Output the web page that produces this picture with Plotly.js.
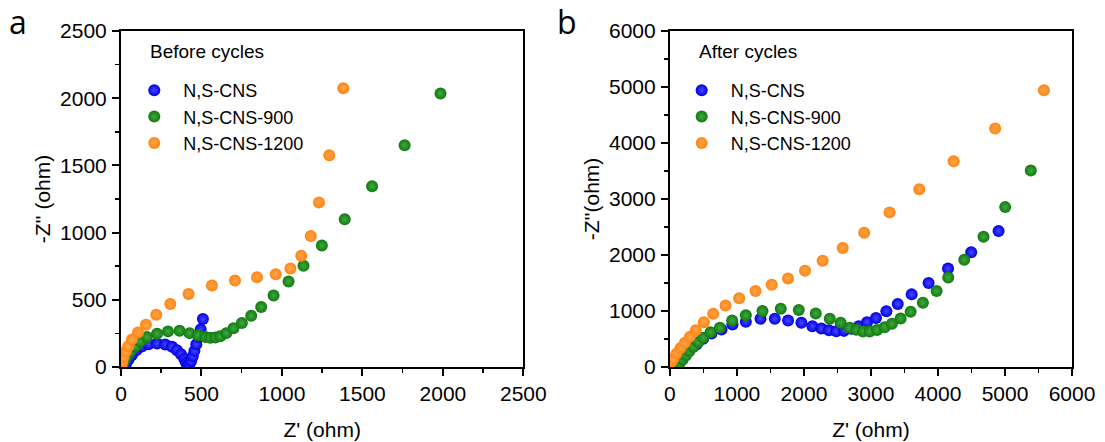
<!DOCTYPE html>
<html>
<head>
<meta charset="utf-8">
<script src="https://cdn.plot.ly/plotly-3.0.1.min.js"></script>
<style>html,body{margin:0;padding:0;background:#fff;}#chart{width:1105px;height:442px;}</style>
</head>
<body>
<div id="chart"></div>
<script>
// ---------- Data ----------
const seriesNames = ["N,S-CNS", "N,S-CNS-900", "N,S-CNS-1200"];
const panelTitles = ["Before cycles", "After cycles"];

// Panel a: before cycles
const a_cns_x   = [20, 31, 47, 68, 95, 130, 171, 224, 275, 317, 348, 373, 393, 405, 414, 425, 436, 446, 456, 468, 482, 495, 509];
const a_cns_y   = [5, 25, 55, 90, 125, 152, 170, 175, 168, 150, 125, 95, 60, 30, 12, 20, 45, 80, 120, 170, 225, 280, 357];
const a_900_x   = [8, 20, 37, 58, 89, 120, 161, 224, 292, 364, 426, 478, 524, 555, 586, 617, 654, 699, 751, 809, 871, 948, 1041, 1134, 1248, 1390, 1560, 1762, 1985];
const a_900_y   = [17, 42, 79, 116, 153, 190, 223, 247, 265, 270, 252, 237, 223, 218, 220, 228, 252, 289, 327, 381, 446, 532, 636, 753, 904, 1099, 1345, 1650, 2035];
const a_1200_x  = [3, 8, 16, 30, 45, 68, 106, 155, 219, 306, 420, 565, 708, 845, 962, 1053, 1120, 1179, 1230, 1294, 1381];
const a_1200_y  = [12, 40, 75, 115, 155, 205, 257, 314, 389, 469, 544, 606, 643, 667, 690, 733, 828, 975, 1224, 1576, 2074];

// Panel b: after cycles
const b_cns_x   = [10, 40, 90, 150, 220, 300, 397, 497, 621, 770, 934, 1133, 1352, 1565, 1763, 1962, 2126, 2260, 2374, 2484, 2598, 2708, 2817, 2941, 3075, 3230, 3400, 3607, 3860, 4150, 4496, 4904];
const b_cns_y   = [60, 100, 150, 205, 265, 330, 400, 503, 598, 670, 759, 808, 862, 862, 831, 790, 729, 688, 657, 640, 645, 682, 729, 800, 877, 995, 1126, 1297, 1499, 1759, 2050, 2429];
const b_900_x   = [89, 139, 189, 238, 288, 348, 422, 497, 606, 745, 929, 1133, 1381, 1654, 1923, 2176, 2385, 2548, 2683, 2782, 2881, 2981, 3090, 3204, 3313, 3443, 3592, 3775, 3979, 4153, 4392, 4680, 5003, 5385];
const b_900_y   = [5, 59, 131, 203, 280, 359, 442, 521, 621, 700, 831, 926, 998, 1041, 1016, 957, 862, 790, 700, 665, 635, 635, 662, 711, 772, 867, 987, 1149, 1357, 1598, 1914, 2327, 2855, 3507];
const b_1200_x  = [10, 50, 99, 159, 224, 298, 387, 507, 646, 830, 1033, 1277, 1520, 1762, 2016, 2279, 2579, 2899, 3277, 3721, 4233, 4853, 5581];
const b_1200_y  = [72, 144, 239, 341, 431, 538, 657, 801, 951, 1100, 1226, 1357, 1470, 1582, 1718, 1896, 2127, 2399, 2761, 3175, 3673, 4260, 4941];

// Axis tick values
const a_ticks = [0, 500, 1000, 1500, 2000, 2500];
const b_ticks = [0, 1000, 2000, 3000, 4000, 5000, 6000];

// ---------- Styles ----------
const colors = ["#0000e6", "#117a11", "#ff8412"];
const centers = ["#4848ff", "#3fa83f", "#ffa850"];
const FONT = "Arial, 'Liberation Sans', sans-serif";

function tr(x, y, i, xa, ya, leg) {
  return {
    x: x, y: y, type: "scatter", mode: "markers", name: seriesNames[i],
    xaxis: xa, yaxis: ya, legend: leg,
    marker: { size: 12, color: colors[i], gradient: { type: "radial", color: centers[i] }, line: { width: 0 } },
    hoverinfo: "x+y"
  };
}

const data = [
  tr(a_cns_x, a_cns_y, 0, "x", "y", "legend"),
  tr(a_900_x, a_900_y, 1, "x", "y", "legend"),
  tr(a_1200_x, a_1200_y, 2, "x", "y", "legend"),
  tr(b_cns_x, b_cns_y, 0, "x2", "y2", "legend2"),
  tr(b_900_x, b_900_y, 1, "x2", "y2", "legend2"),
  tr(b_1200_x, b_1200_y, 2, "x2", "y2", "legend2")
];

function axis(range, ticks, dtick, domain, title, anchor, isX) {
  return {
    domain: domain, anchor: anchor, range: range,
    tickvals: ticks, ticks: "outside", ticklen: 7, tickwidth: 2, tickcolor: "#000",
    minor: { dtick: dtick / 2, ticks: "outside", ticklen: 4, tickwidth: 1.5, tickcolor: "#000", showgrid: false },
    showline: true, linewidth: 2, linecolor: "#000", mirror: true,
    showgrid: false, zeroline: false,
    tickfont: { family: FONT, size: 21, color: "#000" },
    ticklabelstandoff: isX ? 0 : 1,
    title: { text: title, font: { family: FONT, size: 21, color: "#000" }, standoff: isX ? 18 : 4 }
  };
}

const legFont = { family: FONT, size: 18, color: "#000" };
const layout = {
  width: 1105, height: 442,
  margin: { l: 121, r: 33, t: 31, b: 75 },
  paper_bgcolor: "#fff", plot_bgcolor: "#fff",
  showlegend: true,
  xaxis:  axis([0, 2500], a_ticks, 500, [0, 0.4231], "Z' (ohm)", "y", true),
  yaxis:  axis([0, 2500], a_ticks, 500, [0, 1], "-Z'' (ohm)", "x", false),
  xaxis2: axis([0, 6000], b_ticks, 1000, [0.5772, 1], "Z' (ohm)", "y2", true),
  yaxis2: axis([0, 6000], b_ticks, 1000, [0, 1], "-Z''(ohm)", "x2", false),
  legend:  { x: 0.0045, y: 0.878, xanchor: "left", yanchor: "top", font: legFont, itemwidth: 48, bgcolor: "rgba(0,0,0,0)", tracegroupgap: 0 },
  legend2: { x: 0.5801, y: 0.878, xanchor: "left", yanchor: "top", font: legFont, itemwidth: 48, bgcolor: "rgba(0,0,0,0)", tracegroupgap: 0 },
  annotations: [
    { text: panelTitles[0], xref: "paper", yref: "paper", x: 0.0284, y: 0.9384, xanchor: "left", yanchor: "middle", showarrow: false, font: { family: FONT, size: 19, color: "#000" } },
    { text: panelTitles[1], xref: "paper", yref: "paper", x: 0.6053, y: 0.9384, xanchor: "left", yanchor: "middle", showarrow: false, font: { family: FONT, size: 19, color: "#000" } },
    { text: "a", xref: "paper", yref: "paper", x: -0.1079, y: 1.0268, xanchor: "center", yanchor: "middle", showarrow: false, font: { family: "'Open Sans', sans-serif", size: 32, color: "#000" } },
    { text: "b", xref: "paper", yref: "paper", x: 0.469, y: 1.0268, xanchor: "center", yanchor: "middle", showarrow: false, font: { family: "'Open Sans', sans-serif", size: 32, color: "#000" } }
  ]
};

Plotly.newPlot("chart", data, layout, { staticPlot: true, displayModeBar: false });
</script>
</body>
</html>
